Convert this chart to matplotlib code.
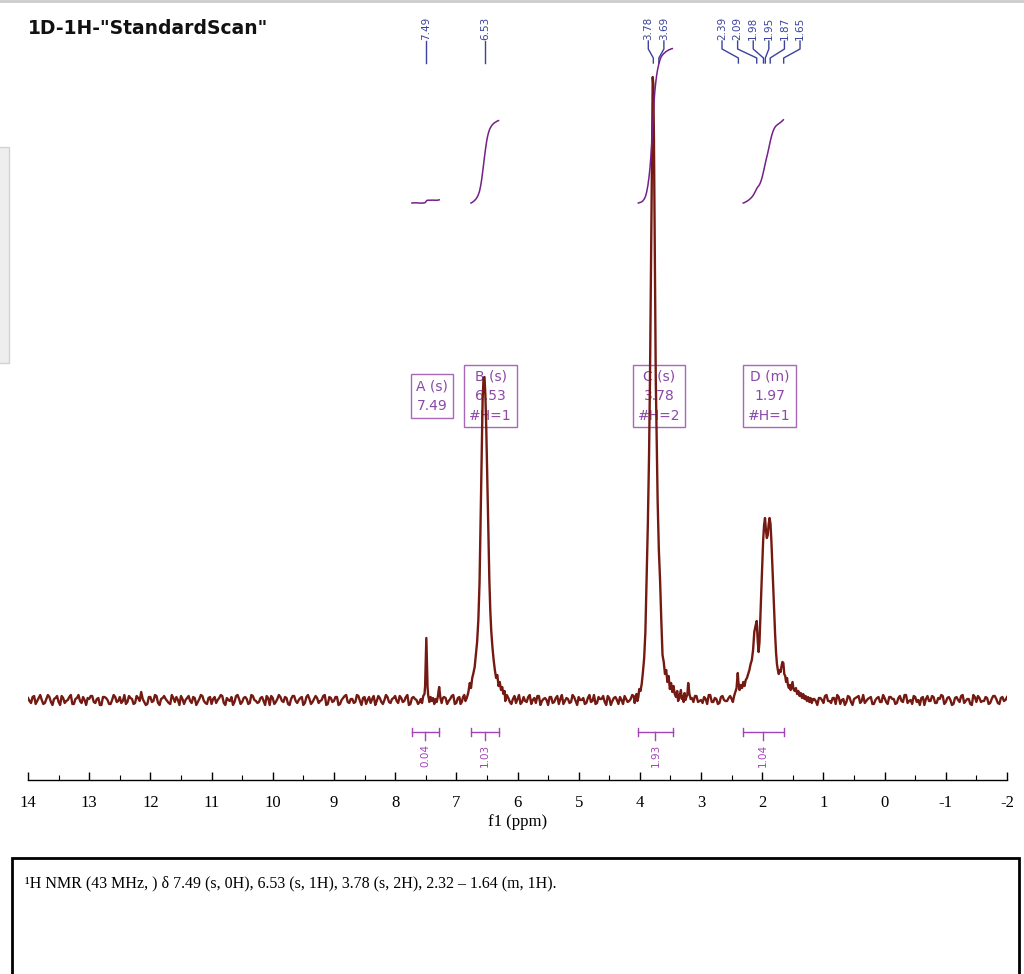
import numpy as np
import matplotlib
matplotlib.use("Agg")
import matplotlib.pyplot as plt
from matplotlib.patches import Rectangle
from matplotlib.lines import Line2D

# ---------------- data ----------------
# baseline noise (intensity above baseline) on a 0.05 ppm grid from 14 to -2
base_noise = [
    2, -3, 4, -1, 5, -4, 1, 3, -5, 2, -2, 4, -3, 0, 5, -4, 2, -1, 3, -5,
    1, 4, -3, 2, -5, 3, 0, -4, 5, -2, 3, -1, -4, 4, 1, -3, 2, 8, -2, -4,
    3, -1, 4, -5, 2, 1, -3, 5, -2, 0, 4, -4, 2, -1, 3, -5, 1, 4, -3, 2,
    -4, 3, 0, 5, -3, 2, -1, -5, 4, 1, -2, 3, -4, 5, 0, -3, 2, -1, 4, -5,
    2, -2, 5, -1, 3, -4, 1, 4, -3, 2, -5, 3, 1, -2, 4, -3, 0, 5, -4, 2,
    -1, 3, -4, 2, 5, -3, 1, -2, 4, -5, 3, 0, -3, 4, -1, 2, -4, 5, -2, 1,
    4, -3, 2, -1, 5, -4, 3, 0, -2, 4, -5, 2, 1, -3, 4, -2, 3, -4, 1, 5,
    -3, 2, -5, 4, 1, -2, 3, -4, 5, -1, 2, -3, 4, 0, -5, 3, -1, 2, -4, 4,
    1, -4, 3, -2, 5, 0, -3, 4, -1, 2, -5, 3, -2, 4, 1, -4, 2, -3, 5, -1,
    3, 0, -4, 2, -2, 5, -3, 1, 4, -5, 2, -1, 3, -4, 0, 4, -2, 1, -3, 5,
    -2, 4, 1, -3, 3, -5, 2, 0, -4, 4, -1, 3, -2, 5, -3, 1, -5, 2, 4, -2,
    0, 3, -4, 5, -2, 1, -3, 4, -1, 2, -5, 3, 0, -2, 4, -4, 2, 5, -3, 1,
    4, -2, 1, -5, 3, -1, 4, -3, 2, 0, -4, 5, -2, 3, -1, -3, 4, 1, -5, 2,
    -3, 5, -1, 2, -4, 3, 0, -5, 4, -2, 1, 3, -3, 5, -1, 2, -4, 0, 3, -2,
    2, -4, 3, 1, -3, 4, -2, 5, -1, -4, 3, 0, 2, -5, 4, -1, 3, -3, 1, 4,
    -2, 3, -5, 2, 0, 4, -3, 1, -4, 5, -2, 2, -1, 3, -4, 1, 4, -3, 2, -1,
    3,
]
# noise values read half-way between the grid points above
mid_noise = [
    -1, 3, -4, 2, 0, -3, 5, -2, 1, 4, -5, 2, -1, 3, -4, 1, 5, -3, 0, 2,
    4, -2, 1, -5, 3, 2, -4, 0, 3, -1, -3, 5, -2, 2, -4, 4, -1, 1, -5, 3,
    -2, 5, -3, 1, 4, -1, -4, 2, 3, -5, 1, 0, 4, -3, 2, -2, 5, -1, -4, 3,
    1, -3, 2, 4, -5, 0, 3, -2, 5, -4, 2, 1, -3, 4, -1, -2, 3, -5, 2, 4,
    -4, 1, 3, -2, 2, -5, 4, -1, 0, 3, -3, 5, -4, 1, 2, -1, 4, -5, 3, -2,
    3, -5, 0, 4, -2, 1, -3, 5, -1, 2, -4, 3, 1, -5, 4, -2, 0, 3, -3, 2,
    -1, 4, -2, 3, -5, 2, 1, -4, 4, 0, -2, 3, -5, 1, 5, -3, 2, -1, 4, -4,
    2, -1, 5, -3, 0, 4, -4, 2, -2, 3, 1, -5, 4, -1, -3, 2, 5, -2, 1, -3,
    5, -2, -1, 3, -4, 2, 4, -5, 1, 0, 3, -3, 2, -4, 5, -1, 1, -2, 3, -5,
    0, 2, -3, 5, -1, -4, 3, 1, -2, 4, -5, 2, 0, 3, -4, 1, -1, 5, -3, 2,
    3, -4, 2, -1, 4, -2, 1, -5, 3, 2, -3, 4, -1, 0, -5, 3, 2, -2, 4, -1,
    -3, 1, 5, -2, 2, -4, 3, 0, -1, 4, -5, 1, 3, -2, 5, -3, -1, 2, -4, 3,
    1, -5, 2, 4, -3, 0, 5, -1, -2, 3, -4, 2, 1, -3, 4, -5, 3, -1, 2, 0,
    4, -1, -3, 2, 5, -4, 1, -2, 3, -5, 2, 4, -1, -3, 1, 3, -4, 2, -2, 5,
    -2, 3, 1, -4, 2, -1, 5, -3, 0, 4, -2, -5, 3, 1, -1, 4, -3, 2, 5, -4,
    2, 0, -4, 3, -2, 5, -1, 1, -5, 3, 4, -2, -1, 2, -3, 4, 1, -4, 3, 0,
]

# peak A (7.49) and the small bump at 7.28
peak_a_ppm = [7.58, 7.56, 7.54, 7.52, 7.51, 7.50, 7.49, 7.48, 7.47, 7.46, 7.44, 7.42,
              7.40, 7.38, 7.36, 7.34, 7.32, 7.30, 7.29, 7.28, 7.27, 7.26, 7.24, 7.22]
peak_a_int = [1, -3, 4, 6, 14, 38, 62, 36, 13, 5, -2, 3,
              -1, 2, -4, 1, -2, 4, 9, 13, 7, 2, -3, 2]

# peak B (6.53)
peak_b_ppm = [6.95, 6.93, 6.91, 6.89, 6.87, 6.85, 6.83, 6.81, 6.80, 6.78, 6.76, 6.74,
              6.72, 6.70, 6.68, 6.66, 6.64, 6.62, 6.60, 6.585, 6.57, 6.555, 6.54,
              6.525, 6.51, 6.50, 6.49, 6.475, 6.46, 6.445, 6.43, 6.41, 6.39, 6.37,
              6.35, 6.33, 6.31, 6.29, 6.27, 6.25, 6.23, 6.21]
peak_b_int = [3, -4, -2, 3, 5, -1, 2, 6, 9, 17, 12, 22,
              27, 33, 45, 58, 80, 118, 190, 250, 300, 322, 323,
              305, 270, 240, 210, 160, 120, 90, 70, 53, 40, 30,
              22, 25, 14, 18, 10, 13, 6, 9]

# peak C (3.78 / 3.69)
peak_c_ppm = [4.10, 4.085, 4.07, 4.055, 4.04, 4.025, 4.01, 3.99, 3.97, 3.95, 3.93, 3.91,
              3.89, 3.87, 3.85, 3.835, 3.82, 3.805, 3.79, 3.78, 3.77, 3.755, 3.74,
              3.725, 3.71, 3.69, 3.67, 3.65, 3.63, 3.61, 3.59, 3.57, 3.55, 3.53,
              3.51, 3.49, 3.47, 3.45, 3.43, 3.41, 3.39, 3.375, 3.36, 3.345, 3.33,
              3.315, 3.30, 3.285, 3.27, 3.255, 3.24, 3.225, 3.21, 3.19, 3.17]
peak_c_int = [4, -3, 2, 6, -1, 3, 11, 9, 16, 28, 42, 68,
              120, 175, 245, 320, 420, 530, 623, 615, 560, 440, 320,
              260, 200, 150, 120, 80, 45, 38, 26, 30, 18, 24,
              11, 17, 8, 14, 6, 3, 9, -1, 2, 6, 10,
              1, 4, -2, 7, 0, 3, 5, 17, 6, 1]

# multiplet D (2.39 - 1.65)
peak_d_ppm = [2.50, 2.48, 2.46, 2.44, 2.42, 2.41, 2.40, 2.39, 2.37, 2.35, 2.33, 2.31,
              2.29, 2.27, 2.25, 2.23, 2.21, 2.19, 2.17, 2.15, 2.13, 2.11, 2.09, 2.075,
              2.06, 2.045, 2.03, 2.015, 2.00, 1.985, 1.97, 1.955, 1.94, 1.925, 1.91,
              1.895, 1.88, 1.865, 1.85, 1.835, 1.82, 1.805, 1.79, 1.775, 1.76, 1.745,
              1.73, 1.715, 1.70, 1.685, 1.67, 1.655, 1.64, 1.625, 1.61, 1.595, 1.58,
              1.565, 1.55, 1.535, 1.52, 1.505, 1.49, 1.47, 1.45, 1.43, 1.41, 1.39,
              1.37, 1.35, 1.33, 1.31, 1.29, 1.27, 1.25, 1.23, 1.21, 1.19, 1.17]
peak_d_int = [1, -2, 4, 8, 12, 20, 27, 18, 10, 15, 12, 18,
              14, 20, 22, 26, 30, 36, 40, 50, 68, 74, 79, 60,
              48, 58, 85, 110, 135, 160, 175, 182, 170, 162, 165,
              176, 182, 176, 158, 135, 112, 88, 66, 48, 36, 30,
              26, 30, 28, 34, 38, 37, 26, 24, 18, 22, 15,
              12, 15, 10, 14, 18, 11, 9, 12, 6, 9, 4,
              7, 2, 6, 1, 4, -1, 3, -2, 2, -3, 1]

# peak picking labels (ppm)
peak_labels = [7.49, 6.53, 3.78, 3.69, 2.39, 2.09, 1.98, 1.95, 1.87, 1.65]

# multiplets
mult_names = ["A", "B", "C", "D"]
mult_kind = ["s", "s", "s", "m"]
mult_shift = [7.49, 6.53, 3.78, 1.97]
mult_nh = [0, 1, 2, 1]

# integrals
int_from = [7.73, 6.76, 4.03, 2.32]
int_to = [7.28, 6.31, 3.46, 1.65]
int_values = [0.04, 1.03, 1.93, 1.04]

x_ticks = list(range(14, -3, -1))
x_ticklabels = ["14", "13", "12", "11", "10", "9", "8", "7", "6", "5", "4", "3", "2", "1", "0", "-1", "-2"]

# ---------------- colours ----------------
spec_color = '#741a12'
label_blue = '#3a429c'
box_purple = '#8a48a8'
box_edge = '#a868b8'
integ_purple = '#a344b6'
curve_purple = '#732089'


def build_spectrum():
    ''' merge baseline noise with the peak profiles '''
    grid = np.linspace(14, -2, len(base_noise) + len(mid_noise))
    base = np.zeros(len(grid))
    base[0::2] = base_noise
    base[1::2] = mid_noise
    keep = np.ones(len(grid), dtype=bool)
    peaks = [(peak_a_ppm, peak_a_int), (peak_b_ppm, peak_b_int),
             (peak_c_ppm, peak_c_int), (peak_d_ppm, peak_d_int)]
    xs = []
    ys = []
    for p, i in peaks:
        keep &= ~((grid <= max(p) + 0.001) & (grid >= min(p) - 0.001))
        xs.append(np.array(p))
        ys.append(np.array(i, dtype=float))
    x = np.concatenate([grid[keep]] + xs)
    y = np.concatenate([base[keep]] + ys)
    order = np.argsort(-x)
    return x[order], y[order]


def spread_labels(peaks, gap=0.255, limit=0.35):
    ''' spread crowded peak labels evenly around the cluster centre '''
    clusters = [[peaks[0]]]
    for p in peaks[1:]:
        if clusters[-1][-1] - p < limit:
            clusters[-1].append(p)
        else:
            clusters.append([p])
    pos = []
    for c in clusters:
        mid = (c[0] + c[-1]) / 2
        n = len(c)
        for k in range(n):
            pos.append(mid + ((n - 1) / 2 - k) * gap)
    return pos


def main():
    fig = plt.figure(figsize=(10.24, 9.74), dpi=100)
    ax = fig.add_axes([28/1024, 194/974, 979/1024, 780/974])

    ppm, inten = build_spectrum()
    ax.plot(ppm, inten, color=spec_color, linewidth=1.7, zorder=3)

    ax.set_xlim(14, -2)
    ax.set_ylim(-80, 700)

    # axis formatting
    for s in ['left', 'right', 'top']:
        ax.spines[s].set_visible(False)
    ax.spines['bottom'].set_linewidth(1.0)
    ax.set_yticks([])
    ax.set_xticks(x_ticks)
    ax.set_xticklabels(x_ticklabels, family='Liberation Serif', fontsize=12)
    ax.set_xticks(np.arange(13.5, -2, -1), minor=True)
    ax.tick_params(axis='x', which='major', direction='in', length=6, width=1.0, pad=11)
    ax.tick_params(axis='x', which='minor', direction='in', length=3.5, width=0.8)
    ax.set_xlabel("f1 (ppm)", family='Liberation Serif', fontsize=12, labelpad=2)
    ax.patch.set_alpha(0)

    # integral curves
    for a, b, v in zip(int_from, int_to, int_values):
        sel = (ppm <= a) & (ppm >= b)
        px = ppm[sel]
        py = inten[sel]
        dx = np.abs(np.diff(px, prepend=px[0]))
        cum = np.cumsum(py * dx)
        cum = cum / cum[-1]
        ax.plot(px, 497 + v * 80 * cum, color=curve_purple, linewidth=1.1, zorder=4)

        # integral bar below the spectrum
        mid = (a + b) / 2
        ax.plot([a, b], [-32, -32], color=integ_purple, lw=1.0)
        ax.plot([a, a], [-28, -36], color=integ_purple, lw=1.0)
        ax.plot([b, b], [-28, -36], color=integ_purple, lw=1.0)
        ax.plot([mid, mid], [-32, -40], color=integ_purple, lw=1.0)
        ax.text(mid, -44, "%.2f" % v, rotation=90, ha='center', va='top',
                color=integ_purple, fontsize=7.5)

    # peak labels at top
    lab_pos = spread_labels(peak_labels)
    for p, lp in zip(peak_labels, lab_pos):
        ax.text(lp, 660, "%.2f" % p, rotation=90, ha='center', va='bottom',
                color=label_blue, fontsize=7.5)
        if abs(lp - p) < 0.01:
            ax.plot([p, p], [659, 637], color=label_blue, lw=1.0)
        else:
            ax.plot([lp, lp, p, p], [659, 651, 642, 637], color=label_blue, lw=1.0)

    # multiplet boxes
    for name, kind, sh, nh in zip(mult_names, mult_kind, mult_shift, mult_nh):
        txt = "%s (%s)\n%.2f" % (name, kind, sh)
        if nh > 0:
            txt += "\n#H=%d" % nh
        ax.text(sh - 0.09, 304, txt, ha='center', va='center', ma='center',
                color=box_purple, fontsize=10, linespacing=1.5, zorder=2,
                bbox=dict(boxstyle='square,pad=0.35', fc='none', ec=box_edge, lw=1.0))

    # title
    fig.text(28/1024, 1 - 28/974, '1D-1H-"StandardScan"', fontsize=13.5,
             fontweight='bold', va='center', ha='left', color='#111111')

    # window decorations
    fig.add_artist(Line2D([0, 1], [0.999, 0.999], transform=fig.transFigure,
                          color='#cccccc', lw=2))
    fig.add_artist(Rectangle((-0.01, 1 - 363/974), 0.01 + 9/1024, (363 - 147)/974,
                             transform=fig.transFigure, fc='#eeeeee', ec='#d2d2d2', lw=1))

    # report box
    fig.add_artist(Rectangle((12/1024, -0.01), (1019 - 12)/1024, (974 - 858)/974 + 0.01,
                             transform=fig.transFigure, fill=False, ec='black', lw=2))
    parts = []
    for kind, sh, nh in zip(mult_kind[:3], mult_shift[:3], mult_nh[:3]):
        parts.append("%.2f (%s, %dH)" % (sh, kind, nh))
    parts.append("%.2f \u2013 %.2f (m, %dH)" % (2.32, 1.64, mult_nh[3]))
    report = "\u00b9H NMR (43 MHz, ) \u03b4 " + ", ".join(parts) + "."
    fig.text(25/1024, 1 - 883/974, report, family='Liberation Serif', fontsize=11.5,
             va='center', ha='left')

    fig.savefig('out.png', dpi=100)


if __name__ == "__main__":
    main()
